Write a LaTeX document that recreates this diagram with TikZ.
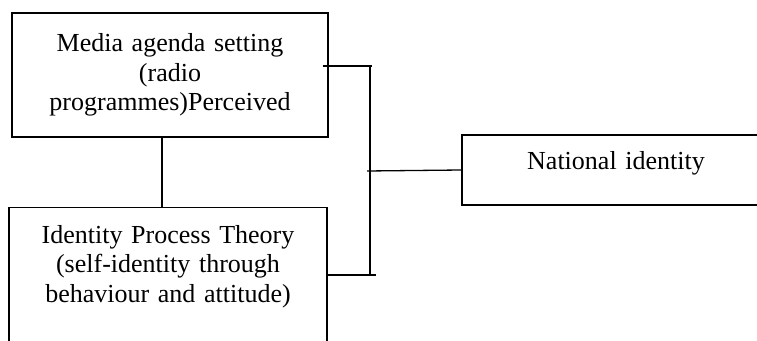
\documentclass[tikz,border=0pt]{standalone}
\usepackage{fontspec}
\setmainfont{Liberation Serif}
\usetikzlibrary{positioning}

\begin{document}
\begin{tikzpicture}[x=1pt,y=1pt,-,thick,
  main node/.style={rectangle,draw,line width=1.4pt,align=center,inner xsep=0pt,
    font=\fontsize{26}{29.5}\selectfont},
  link/.style={line width=1.3pt}]
  \clip (0,0) rectangle (757,340);
  \node[main node,text width=316pt,minimum height=124pt] (agenda) at (170,265) {Media agenda setting\\(radio\\programmes)Perceived};
  \node[main node,text width=318pt,anchor=north,inner ysep=18pt,text depth=110pt] (ipt) [below=69pt of agenda,xshift=-2pt] {Identity Process Theory\\(self-identity through\\behaviour and attitude)};
  \node[main node,text width=308pt,minimum height=70pt,text height=12pt,text depth=12pt] (natid) at (616,170) {National identity};

  \coordinate (spinetop) at (370,274);
  \coordinate (spinebot) at (370,65);
  \coordinate (spinemid) at (367,169);
  \coordinate (linkx) at (162,0);

  \path[link]
    (agenda.south -| linkx) edge (ipt.north -| linkx)
    ([xshift=-6pt]agenda.east |- spinetop) edge ([xshift=2pt]spinetop)
    ([xshift=-1pt]ipt.east |- spinebot) edge ([xshift=6pt]spinebot)
    (spinetop) edge (spinebot)
    (spinemid) edge (natid.west);
\end{tikzpicture}
\end{document}
